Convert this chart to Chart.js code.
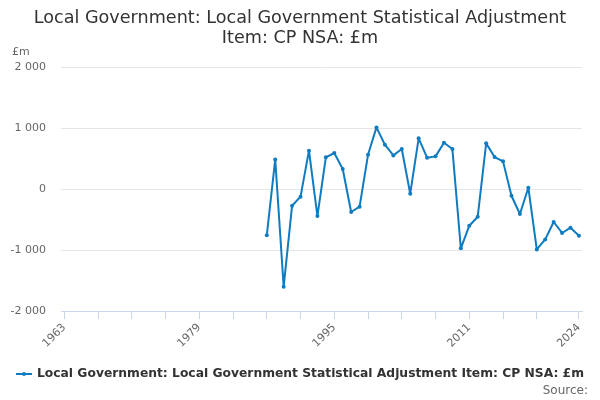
<!DOCTYPE html>
<html>
<head>
<meta charset="utf-8">
<script src="https://cdn.jsdelivr.net/npm/chart.js@4.4.1/dist/chart.umd.min.js"></script>
<style>
  html, body { margin: 0; padding: 0; background: #fff; }
  #wrap { width: 600px; height: 400px; }
</style>
</head>
<body>
<div id="wrap"><canvas id="chart"></canvas></div>
<script>
// values, £m
const years = [1987, 1988, 1989, 1990, 1991, 1992, 1993, 1994, 1995, 1996,
    1997, 1998, 1999, 2000, 2001, 2002, 2003, 2004, 2005, 2006,
    2007, 2008, 2009, 2010, 2011, 2012, 2013, 2014, 2015, 2016,
    2017, 2018, 2019, 2020, 2021, 2022, 2023, 2024];
const values = [-760, 485, -1602, -274, -126, 628, -443, 519, 590, 328,
    -377, -290, 562, 1010, 726, 551, 655, -77, 830, 513,
    535, 759, 655, -973, -602, -454, 748, 524, 453, -110,
    -410, 21, -990, -826, -541, -721, -634, -766];

const tickYears = [1963, 1967, 1971, 1975, 1979, 1983, 1987, 1991, 1995, 1999,
    2003, 2007, 2011, 2015, 2019, 2024];
const labelYears = [1963, 1979, 1995, 2011, 2024];
const yTicks = [-2000, -1000, 0, 1000, 2000];

const titleLines = ['Local Government: Local Government Statistical Adjustment', 'Item: CP NSA: £m'];
const seriesName = 'Local Government: Local Government Statistical Adjustment Item: CP NSA: £m';
const lineColor = '#0f7cc0';
const fontFamily = '"DejaVu Sans", Verdana, sans-serif';

function formatThousands(v) {
    const s = Math.abs(v).toString().replace(/\B(?=(\d{3})+(?!\d))/g, ' ');
    return (v < 0 ? '-' : '') + s;
}

// draws the title, unit label, the legend and the source line
const extras = {
    id: 'extras',
    afterDraw(chart) {
        const ctx = chart.ctx;
        ctx.save();
        ctx.textBaseline = 'middle';

        // title, centred on the whole canvas
        ctx.fillStyle = '#333';
        ctx.font = '17.6px ' + fontFamily;
        ctx.textAlign = 'center';
        titleLines.forEach((line, i) => ctx.fillText(line, chart.width / 2, 18.5 + i * 20));

        ctx.fillStyle = '#666';
        ctx.font = '11px ' + fontFamily;
        ctx.textAlign = 'left';
        ctx.fillText('£m', 12, 52);

        // legend
        ctx.strokeStyle = lineColor;
        ctx.lineWidth = 2;
        ctx.beginPath();
        ctx.moveTo(16, 374);
        ctx.lineTo(32, 374);
        ctx.stroke();
        ctx.fillStyle = lineColor;
        ctx.beginPath();
        ctx.arc(24, 374, 2, 0, Math.PI * 2);
        ctx.fill();
        ctx.fillStyle = '#333';
        ctx.font = 'bold 12.3px ' + fontFamily;
        ctx.fillText(seriesName, 37, 374);

        ctx.fillStyle = '#666';
        ctx.font = '12px ' + fontFamily;
        ctx.textAlign = 'right';
        ctx.fillText('Source:', 588, 391);
        ctx.restore();
    }
};

new Chart(document.getElementById('chart'), {
    type: 'line',
    data: {
        datasets: [{
            label: seriesName,
            data: years.map((y, i) => ({ x: y, y: values[i] })),
            borderColor: lineColor,
            backgroundColor: lineColor,
            borderWidth: 2,
            borderJoinStyle: 'round',
            borderCapStyle: 'round',
            pointRadius: 2,
            pointBorderWidth: 0,
            pointHoverRadius: 2,
            tension: 0
        }]
    },
    options: {
        responsive: true,
        maintainAspectRatio: false,
        animation: false,
        events: [],
        layout: { padding: { left: 0, right: 18, top: 67, bottom: 0 } },
        plugins: {
            legend: { display: false },
            tooltip: { enabled: false },
            title: { display: false }
        },
        scales: {
            x: {
                type: 'linear',
                min: 1962.61,
                max: 2024.36,
                afterBuildTicks: (scale) => {
                    scale.ticks = tickYears.map(v => ({ value: v }));
                },
                afterFit: (scale) => { scale.height = 89; },
                grid: {
                    drawOnChartArea: false,
                    drawTicks: true,
                    tickLength: 8,
                    color: '#ccd6eb'
                },
                border: { display: true, color: '#ccd6eb' },
                ticks: {
                    autoSkip: false,
                    minRotation: 45,
                    maxRotation: 45,
                    padding: 2,
                    color: '#666',
                    font: { family: fontFamily, size: 11 },
                    callback: (v) => labelYears.includes(v) ? String(v) : ''
                }
            },
            y: {
                min: -2000,
                max: 2000,
                afterBuildTicks: (scale) => {
                    scale.ticks = yTicks.map(v => ({ value: v }));
                },
                afterFit: (scale) => { scale.width = 61; },
                grid: {
                    color: '#e6e6e6',
                    drawTicks: false
                },
                border: { display: false },
                ticks: {
                    padding: 15,
                    color: '#666',
                    font: { family: fontFamily, size: 11 },
                    callback: (v) => formatThousands(v)
                }
            }
        }
    },
    plugins: [extras]
});
</script>
</body>
</html>
